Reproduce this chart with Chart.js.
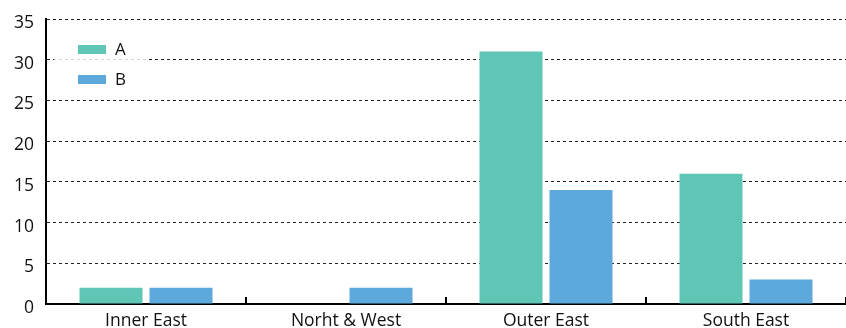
<!DOCTYPE html>
<html>
<head>
<meta charset="utf-8">
<script src="https://cdn.jsdelivr.net/npm/chart.js@4"></script>
<style>
html,body{margin:0;padding:0;background:#fff;overflow:hidden;width:846px;height:328px}
#wrap{position:relative;width:846px;height:360px}
#legend{position:absolute;left:54px;top:34px;width:92px;height:60px;background:rgba(255,255,255,.8);font:17px "Open Sans",sans-serif;color:#111}
.item{position:absolute;left:24px;height:20px;line-height:20px}
.item i{display:inline-block;width:28px;height:9px;margin-right:9px;vertical-align:middle;position:relative;top:-1px}
</style>
</head>
<body>
<div id="wrap">
<canvas id="c" width="846" height="346"></canvas>
<div id="legend"></div>
</div>
<script>
const categories=["Inner East","Norht & West","Outer East","South East"];
const seriesA=[2,0,31,16];
const seriesB=[2,2,14,3];
const names=["A","B"];
const colors=["#5fc5b5","#5da9dc"];

const font={family:"'Open Sans', sans-serif",size:17.5};

new Chart(c,{
  type:"bar",
  data:{
    labels:categories,
    datasets:[seriesA,seriesB].map((d,i)=>({
      label:names[i],
      data:d,
      backgroundColor:colors[i],
      borderWidth:0,
      categoryPercentage:.7,
      barPercentage:.9
    }))
  },
  options:{
    responsive:false,
    animation:false,
    layout:{padding:{top:0,left:2,right:0,bottom:0}},
    plugins:{legend:{display:false},tooltip:{enabled:false}},
    scales:{
      x:{
        grid:{offset:true,drawOnChartArea:false,color:"#000",lineWidth:2,tickLength:-7},
        border:{color:"#000",width:2},
        ticks:{color:"#111",font,padding:14}
      },
      y:{
        min:0,max:35,
        ticks:{stepSize:5,color:"#111",font:{...font,lineHeight:.8},padding:12,labelOffset:4},
        grid:{color:"#222",lineWidth:1,drawTicks:false},
        border:{color:"#000",width:2,dash:[3,3]}
      }
    }
  }
});

legend.innerHTML=names.map((n,i)=>`<div class="item" style="top:${5+i*30}px"><i style="background:${colors[i]}"></i>${n}</div>`).join("");
</script>
</body>
</html>
